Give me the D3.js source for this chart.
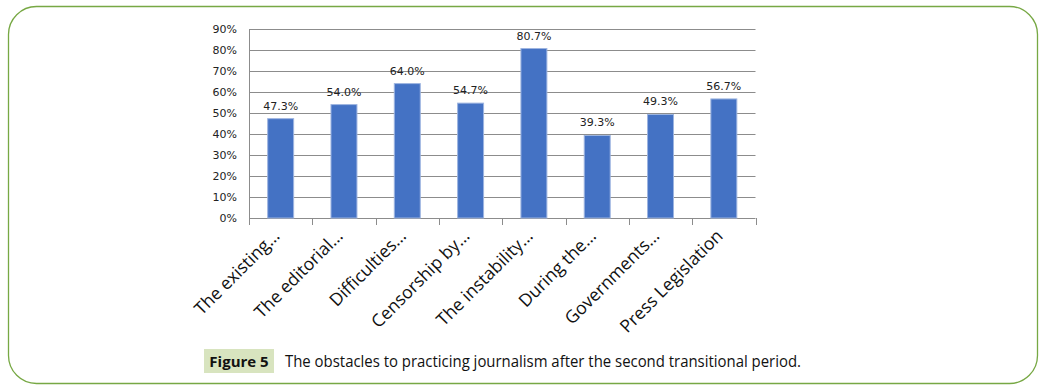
<!DOCTYPE html>
<html>
<head>
<meta charset="utf-8">
<script src="https://cdn.jsdelivr.net/npm/d3@7"></script>
<style>
  body { margin: 0; background: #fff; }
  svg { display: block; }
</style>
</head>
<body>
<div id="chart"></div>
<script>

var categories = ["The existing\u2026", "The editorial\u2026", "Difficulties\u2026", "Censorship by\u2026",
                  "The instability\u2026", "During the\u2026", "Governments\u2026", "Press Legislation"];
var values = [47.3, 54.0, 64.0, 54.7, 80.7, 39.3, 49.3, 56.7];
var y_ticks = [0, 10, 20, 30, 40, 50, 60, 70, 80, 90];
var caption_tag = "Figure 5";
var caption_text = "The obstacles to practicing journalism after the second transitional period.";

var W = 1047, H = 389;
var bar_col = "#4472C4";
var grid_col = "#8c8c8c";
var frame_col = "#77a844";

var svg = d3.select("#chart")
  .append("svg")
  .attr("width", W)
  .attr("height", H);

// rounded frame
svg.append("rect")
  .attr("x", 8.5).attr("y", 6.5)
  .attr("width", 1029).attr("height", 377)
  .attr("rx", 28).attr("ry", 28)
  .attr("fill", "none")
  .attr("stroke", frame_col)
  .attr("stroke-width", 1.3);

var plot = {left: 249, right: 755.5, top: 29, bottom: 218};

var x = d3.scaleBand()
  .domain(categories)
  .range([plot.left, plot.right])
  .paddingInner(0.59)
  .paddingOuter(0.295);

var y = d3.scaleLinear()
  .domain([0, 90])
  .range([plot.bottom, plot.top]);

// gridlines
svg.append("g")
  .selectAll("line")
  .data(y_ticks)
  .enter()
  .append("line")
    .attr("x1", plot.left)
    .attr("x2", plot.right)
    .attr("y1", d => Math.round(y(d)) + 0.5)
    .attr("y2", d => Math.round(y(d)) + 0.5)
    .attr("stroke", grid_col)
    .attr("stroke-width", 1);

// y axis labels
var yAxis = d3.axisLeft(y)
  .tickValues(y_ticks)
  .tickFormat(d => d + "%")
  .tickSize(0)
  .tickPadding(12);

var gy = svg.append("g")
  .attr("transform", "translate(" + plot.left + ",0)")
  .call(yAxis);
gy.select(".domain").attr("stroke", grid_col);
gy.selectAll("text")
  .style("font-family", "'DejaVu Sans', sans-serif")
  .style("font-size", "11px")
  .attr("fill", "#222");
gy.select(".domain").attr("d", "M0.5," + (plot.top) + "V" + (plot.bottom + 7));

// x axis ticks at band boundaries
var bounds = categories.map(c => x(c) - x.step() * x.paddingInner() / 2);
bounds.push(plot.right);
svg.append("g")
  .selectAll("line")
  .data(bounds)
  .enter()
  .append("line")
    .attr("x1", d => Math.round(d) + 0.5)
    .attr("x2", d => Math.round(d) + 0.5)
    .attr("y1", plot.bottom)
    .attr("y2", plot.bottom + 7)
    .attr("stroke", grid_col);

// bars
svg.append("g")
  .selectAll("rect")
  .data(values)
  .enter()
  .append("rect")
    .attr("x", (d, i) => x(categories[i]))
    .attr("y", d => y(d))
    .attr("width", x.bandwidth())
    .attr("height", d => plot.bottom - y(d))
    .attr("fill", bar_col)
    .attr("stroke", "#9db4e0")
    .attr("stroke-width", 1);

// value labels
svg.append("g")
  .selectAll("text")
  .data(values)
  .enter()
  .append("text")
    .attr("x", (d, i) => x(categories[i]) + x.bandwidth() / 2)
    .attr("y", d => y(d) - 9)
    .attr("text-anchor", "middle")
    .style("font-family", "'DejaVu Sans', sans-serif")
    .style("font-size", "11px")
    .attr("fill", "#222")
    .text(d => d.toFixed(1) + "%");

// category labels, rotated
svg.append("g")
  .selectAll("text")
  .data(categories)
  .enter()
  .append("text")
    .attr("transform", d => "translate(" + (x(d) + x.bandwidth() / 2) + "," + (plot.bottom + 19) + ") rotate(-45)")
    .attr("text-anchor", "end")
    .style("font-family", "'Open Sans', sans-serif")
    .style("font-size", "17.6px")
    .attr("fill", "#111")
    .text(d => d);

// caption
svg.append("rect")
  .attr("x", 204).attr("y", 349)
  .attr("width", 70).attr("height", 24)
  .attr("fill", "#d8e4bf");
svg.append("text")
  .attr("x", 239).attr("y", 367)
  .attr("text-anchor", "middle")
  .style("font-family", "'Open Sans', sans-serif")
  .style("font-size", "15px")
  .style("font-weight", "bold")
  .attr("fill", "#111")
  .text(caption_tag);
svg.append("text")
  .attr("x", 285).attr("y", 367)
  .style("font-family", "'Open Sans', sans-serif")
  .style("font-size", "16px")
  .attr("fill", "#111")
  .attr("textLength", 516)
  .attr("lengthAdjust", "spacingAndGlyphs")
  .text(caption_text);

</script>
</body>
</html>
